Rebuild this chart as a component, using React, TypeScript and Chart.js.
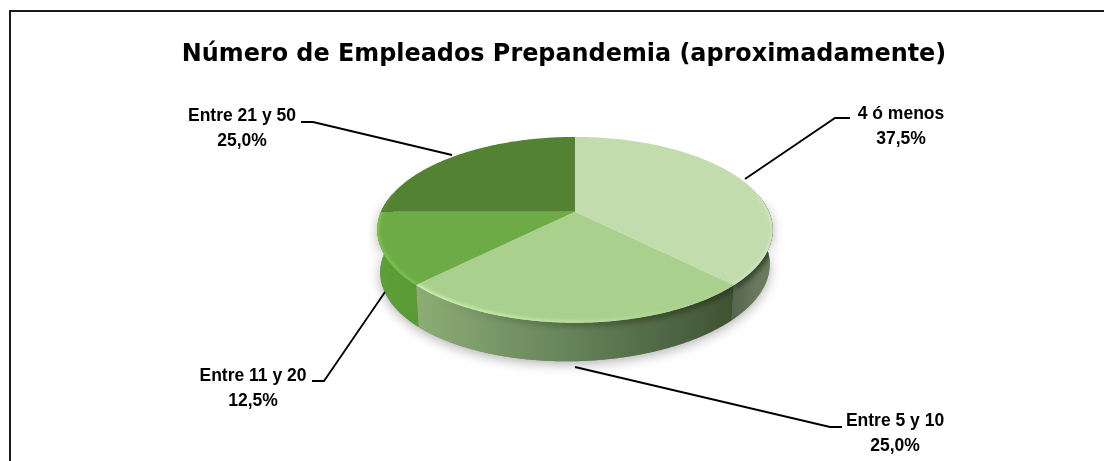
import React, { useEffect, useRef } from "react";
import { Chart, registerables } from "chart.js";

Chart.register(...registerables);

const categories = ["4 ó menos", "Entre 5 y 10", "Entre 11 y 20", "Entre 21 y 50"];
const shares = [37.5, 25.0, 12.5, 25.0];
const faceColors = ["#C3DCAE", "#A9D08D", "#6DAB47", "#548233"];
const titleText = "Número de Empleados Prepandemia (aproximadamente)";

// side wall gradient stops, left to right
const wallStops = [
  ["#566650", "#6A7A5E"],
  ["#8DAD75", "#64825A", "#3F5233"],
  ["#5F9F38", "#5A9A34"],
  ["#3F6226", "#3F6226"],
];
// bevel highlight along the rim: colour and strength at the left and right of the pie
const rimLight = [
  { rgb: "225,236,214", left: 0.45, right: 0.45 },
  { rgb: "205,240,175", left: 0.95, right: 0 },
  { rgb: "125,200,78", left: 0.8, right: 0.8 },
  { rgb: "110,160,78", left: 0.3, right: 0.3 },
];

// callout placement: text centre x, first line y, and leader polyline
const callouts = [
  { x: 901, y: 114, path: [[745, 179], [835, 118], [850, 118]] },
  { x: 895, y: 421, path: [[575, 367], [830, 427], [842, 427]] },
  { x: 253, y: 376, path: [[385, 292], [324, 381], [312, 381]] },
  { x: 242, y: 116, path: [[452, 155], [313, 122], [301, 122]] },
];

// pie projection (perspective tilt)
const SHIFT_X = 11;
const Y_SQUASH = 0.461;
const PERSPECTIVE = -0.1935;
const WALL_DEPTH = 38.5;
const WALL_SKEW = 4;
const WALL_NARROW = 0.985;

type Pt = [number, number];

function project(cx: number, cy: number, R: number, a: number, f = 1): Pt {
  const u = f * Math.cos(a);
  const v = f * Math.sin(a);
  const w = 1 + PERSPECTIVE * v;
  return [cx + (R * u) / w, cy + (Y_SQUASH * R * v) / w];
}

function arcPoints(cx: number, cy: number, R: number, a0: number, a1: number, f = 1): Pt[] {
  const n = Math.max(2, Math.ceil(Math.abs(a1 - a0) / 0.01));
  const pts: Pt[] = [];
  for (let i = 0; i <= n; i++) pts.push(project(cx, cy, R, a0 + ((a1 - a0) * i) / n, f));
  return pts;
}

function wallPath(ctx: CanvasRenderingContext2D, cx: number, cy: number, R: number, a0: number, a1: number) {
  const top = arcPoints(cx, cy, R, a0, a1);
  ctx.beginPath();
  top.forEach((p, i) => (i ? ctx.lineTo(p[0], p[1]) : ctx.moveTo(p[0], p[1])));
  [...top].reverse().forEach((p) => {
    const depth = WALL_DEPTH - (WALL_SKEW * (p[0] - cx)) / R;
    ctx.lineTo(cx + (p[0] - cx) * WALL_NARROW, p[1] + depth);
  });
  ctx.closePath();
}

function facePath(ctx: CanvasRenderingContext2D, cx: number, cy: number, R: number, a0: number, a1: number) {
  ctx.beginPath();
  ctx.moveTo(cx, cy);
  arcPoints(cx, cy, R, a0, a1).forEach((p) => ctx.lineTo(p[0], p[1]));
  ctx.closePath();
}

function strokeRim(ctx: CanvasRenderingContext2D, cx: number, cy: number, R: number, a0: number, a1: number, dy: number) {
  ctx.beginPath();
  arcPoints(cx, cy, R, a0, a1).forEach((p, i) =>
    i ? ctx.lineTo(p[0], p[1] + dy) : ctx.moveTo(p[0], p[1] + dy)
  );
  ctx.stroke();
}

const pie3d = {
  id: "pie3d",
  beforeDatasetsDraw(chart: any) {
    const ctx: CanvasRenderingContext2D = chart.ctx;
    const arcs = chart.getDatasetMeta(0).data;
    const first = arcs[0];
    const cx = first.x + SHIFT_X;
    const cy = first.y;
    const R = first.outerRadius;
    const lo = -0.2;
    const hi = Math.PI + 0.2;

    // soft ground shadow
    ctx.save();
    ctx.shadowColor = "rgba(0,0,0,0.3)";
    ctx.shadowBlur = 12;
    ctx.shadowOffsetY = 3;
    ctx.fillStyle = "#7a8a70";
    wallPath(ctx, cx, cy, R, -0.15, Math.PI + 0.15);
    ctx.fill();
    ctx.restore();

    // side walls, with a dark soft band below the rim towards the right
    arcs.forEach((el: any, i: number) => {
      const a0 = Math.max(el.startAngle, lo);
      const a1 = Math.min(el.endAngle, hi);
      if (a1 <= a0) return;
      const pa = project(cx, cy, R, a0);
      const pb = project(cx, cy, R, a1);
      const g = ctx.createLinearGradient(Math.min(pa[0], pb[0]), 0, Math.max(pa[0], pb[0]), 0);
      const stops = wallStops[i];
      stops.forEach((c, k) => g.addColorStop(k / (stops.length - 1), c));
      ctx.fillStyle = g;
      wallPath(ctx, cx, cy, R, a0, a1);
      ctx.fill();

      ctx.save();
      wallPath(ctx, cx, cy, R, a0, a1);
      ctx.clip();
      const dark = ctx.createLinearGradient(cx - R * 0.7, 0, cx + R * 0.9, 0);
      dark.addColorStop(0, "rgba(38,50,30,0)");
      dark.addColorStop(1, "rgba(38,50,30,0.7)");
      ctx.strokeStyle = dark;
      ctx.lineWidth = 9;
      (ctx as any).filter = "blur(2.5px)";
      strokeRim(ctx, cx, cy, R, a0, a1, 0);
      ctx.restore();
    });

    // top faces, with a soft light band inside the front rim
    arcs.forEach((el: any, i: number) => {
      facePath(ctx, cx, cy, R, el.startAngle, el.endAngle);
      ctx.fillStyle = el.options.backgroundColor;
      ctx.fill();

      const a0 = Math.max(el.startAngle, lo);
      const a1 = Math.min(el.endAngle, hi);
      if (a1 <= a0) return;
      const rim = rimLight[i];
      ctx.save();
      facePath(ctx, cx, cy, R, el.startAngle, el.endAngle);
      ctx.clip();
      const light = ctx.createLinearGradient(cx - R * 0.8, 0, cx + R * 0.8, 0);
      light.addColorStop(0, `rgba(${rim.rgb},${rim.left})`);
      light.addColorStop(1, `rgba(${rim.rgb},${rim.right})`);
      ctx.strokeStyle = light;
      ctx.lineWidth = 5;
      (ctx as any).filter = "blur(1.6px)";
      strokeRim(ctx, cx, cy, R, a0, a1, 0);
      ctx.restore();
    });
    return false;
  },
  afterDraw(chart: any) {
    const ctx: CanvasRenderingContext2D = chart.ctx;
    ctx.save();
    // frame: only its top and left edges fall inside the picture
    ctx.strokeStyle = "#1a1a1a";
    ctx.lineWidth = 2;
    ctx.beginPath();
    ctx.moveTo(10, 461);
    ctx.lineTo(10, 11);
    ctx.lineTo(1104, 11);
    ctx.stroke();

    ctx.strokeStyle = "#000000";
    ctx.lineWidth = 1.8;
    callouts.forEach((c, i) => {
      ctx.beginPath();
      c.path.forEach((p, k) => (k ? ctx.lineTo(p[0], p[1]) : ctx.moveTo(p[0], p[1])));
      ctx.stroke();
      ctx.fillStyle = "#000000";
      ctx.font = "bold 17.5px 'Liberation Sans'";
      ctx.textAlign = "center";
      ctx.textBaseline = "middle";
      const lines = [categories[i], shares[i].toFixed(1).replace(".", ",") + "%"];
      lines.forEach((t, k) => {
        ctx.fillText(t, c.x, c.y + k * 25.5);
      });
    });
    ctx.restore();
  },
};

export default function App() {
  const ref = useRef<HTMLCanvasElement | null>(null);
  useEffect(() => {
    if (!ref.current) return;
    const chart = new Chart(ref.current, {
      type: "pie",
      data: {
        labels: categories,
        datasets: [{ data: shares, backgroundColor: faceColors, borderWidth: 0 }],
      },
      options: {
        responsive: false,
        animation: false,
        radius: 194,
        layout: { padding: { left: 24, right: 0, top: 0, bottom: 106 } },
        plugins: {
          legend: { display: false },
          tooltip: { enabled: false },
          title: {
            display: true,
            text: titleText,
            color: "#000000",
            font: { family: "'DejaVu Sans'", weight: "bold", size: 23.9 },
            padding: { top: 40, bottom: 0 },
          },
        },
      } as any,
      plugins: [pie3d as any],
    });
    return () => chart.destroy();
  }, []);
  return (
    <div style={{ position: "fixed", left: 0, top: 0, width: 1104, height: 461, background: "#fff" }}>
      <canvas ref={ref} width={1104} height={461} style={{ display: "block" }} />
    </div>
  );
}
